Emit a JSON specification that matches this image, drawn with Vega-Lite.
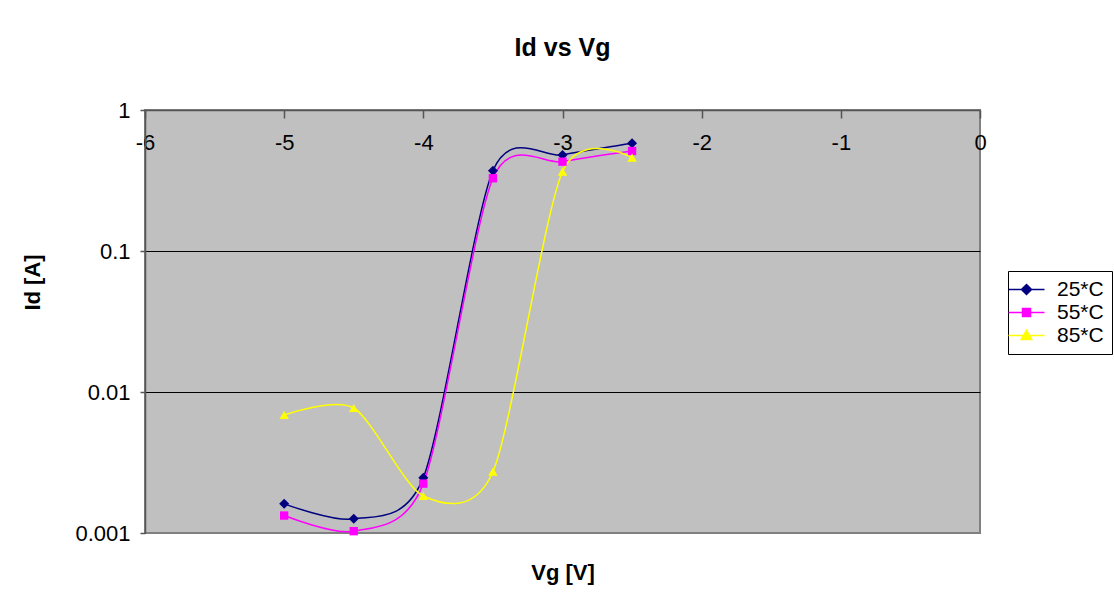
{
  "$schema": "https://vega.github.io/schema/vega-lite/v6.json",
  "width": 835,
  "height": 423,
  "autosize": "none",
  "padding": {"left": 145, "top": 110, "right": 134, "bottom": 67},
  "background": "white",
  "title": {"text": "Id vs Vg", "font": "Liberation Sans", "fontSize": 25, "fontWeight": "bold", "color": "black", "anchor": "middle", "frame": "group", "offset": 38},
  "config": {
    "font": "Liberation Sans",
    "view": {"fill": "#C0C0C0", "stroke": "#808080", "strokeWidth": 2}
  },
  "data": {
    "values": [
      {"Vg": -5, "Id": 0.00161, "T": "25*C"},
      {"Vg": -4.5, "Id": 0.00126, "T": "25*C"},
      {"Vg": -4, "Id": 0.00247, "T": "25*C"},
      {"Vg": -3.5, "Id": 0.371, "T": "25*C"},
      {"Vg": -3, "Id": 0.48, "T": "25*C"},
      {"Vg": -2.5, "Id": 0.58, "T": "25*C"},
      {"Vg": -5, "Id": 0.00133, "T": "55*C"},
      {"Vg": -4.5, "Id": 0.00103, "T": "55*C"},
      {"Vg": -4, "Id": 0.00224, "T": "55*C"},
      {"Vg": -3.5, "Id": 0.328, "T": "55*C"},
      {"Vg": -3, "Id": 0.43, "T": "55*C"},
      {"Vg": -2.5, "Id": 0.512, "T": "55*C"},
      {"Vg": -5, "Id": 0.00687, "T": "85*C"},
      {"Vg": -4.5, "Id": 0.0077, "T": "85*C"},
      {"Vg": -4, "Id": 0.00183, "T": "85*C"},
      {"Vg": -3.5, "Id": 0.00272, "T": "85*C"},
      {"Vg": -3, "Id": 0.365, "T": "85*C"},
      {"Vg": -2.5, "Id": 0.459, "T": "85*C"}
    ]
  },
  "encoding": {
    "x": {
      "field": "Vg", "type": "quantitative",
      "scale": {"domain": [-6, 0], "nice": false, "zero": false},
      "axis": {
        "orient": "bottom", "offset": -423,
        "values": [-6, -5, -4, -3, -2, -1, 0],
        "labelExpr": "datum.value + ''",
        "labelFlush": false,
        "labelFont": "Liberation Sans", "labelFontSize": 22, "labelColor": "black",
        "labelPadding": 14,
        "tickSize": 8, "tickColor": "#555555", "tickWidth": 1.5,
        "domainColor": "#555555", "domainWidth": 1.5,
        "grid": false,
        "title": "Vg [V]", "titleFont": "Liberation Sans", "titleFontSize": 22, "titleFontWeight": "bold", "titleColor": "black",
        "titleBaseline": "alphabetic", "titleY": 469
      }
    },
    "y": {
      "field": "Id", "type": "quantitative",
      "scale": {"type": "log", "domain": [0.001, 1], "nice": false},
      "axis": {
        "values": [0.001, 0.01, 0.1, 1],
        "format": "~g",
        "labelFont": "Liberation Sans", "labelFontSize": 22, "labelColor": "black",
        "labelPadding": 10,
        "tickSize": 5, "tickColor": "#555555", "tickWidth": 1.5,
        "domainColor": "#555555", "domainWidth": 1.5,
        "grid": true,
        "gridColor": {"condition": {"test": "datum.value > 0.005 && datum.value < 0.5", "value": "black"}, "value": "transparent"},
        "gridWidth": 1,
        "title": "Id [A]", "titleFont": "Liberation Sans", "titleFontSize": 22, "titleFontWeight": "bold", "titleColor": "black",
        "titleAngle": 270, "titleAlign": "center", "titleBaseline": "middle",
        "titleX": -113, "titleY": 172
      }
    },
    "color": {
      "field": "T", "type": "nominal",
      "scale": {"domain": ["25*C", "55*C", "85*C"], "range": ["#000080", "#FF00FF", "#FFFF00"]},
      "legend": {
        "title": null,
        "orient": "none", "legendX": 863, "legendY": 161,
        "strokeColor": "black", "fillColor": "white",
        "padding": 8,
        "labelFont": "Liberation Sans", "labelFontSize": 21, "labelColor": "black",
        "labelOffset": 20,
        "symbolSize": 100,
        "rowPadding": 1,
        "encode": {
          "symbols": {
            "update": {
              "shape": {"signal": "datum.value === '25*C' ? 'M-3.6,0H3.6M0,-1L1,0L0,1L-1,0Z' : datum.value === '55*C' ? 'M-3.6,0H3.6M-0.8,-0.8H0.8V0.8H-0.8Z' : 'M-3.6,0H3.6M0,-1.05L1.05,0.8H-1.05Z'"},
              "fill": {"scale": "color", "field": "value"},
              "stroke": {"scale": "color", "field": "value"},
              "strokeWidth": {"value": 1.5},
              "opacity": {"value": 1}
            }
          }
        }
      }
    }
  },
  "layer": [
    {"mark": {"type": "line", "interpolate": "cardinal", "tension": 0.2, "strokeWidth": 1.5}},
    {
      "transform": [{"filter": "datum.T === '25*C'"}],
      "mark": {"type": "point", "filled": true, "opacity": 1, "size": 100, "shape": "diamond"}
    },
    {
      "transform": [{"filter": "datum.T === '55*C'"}],
      "mark": {"type": "point", "filled": true, "opacity": 1, "size": 70, "shape": "square"}
    },
    {
      "transform": [{"filter": "datum.T === '85*C'"}],
      "mark": {"type": "point", "filled": true, "opacity": 1, "size": 90, "shape": "triangle-up"}
    }
  ]
}
